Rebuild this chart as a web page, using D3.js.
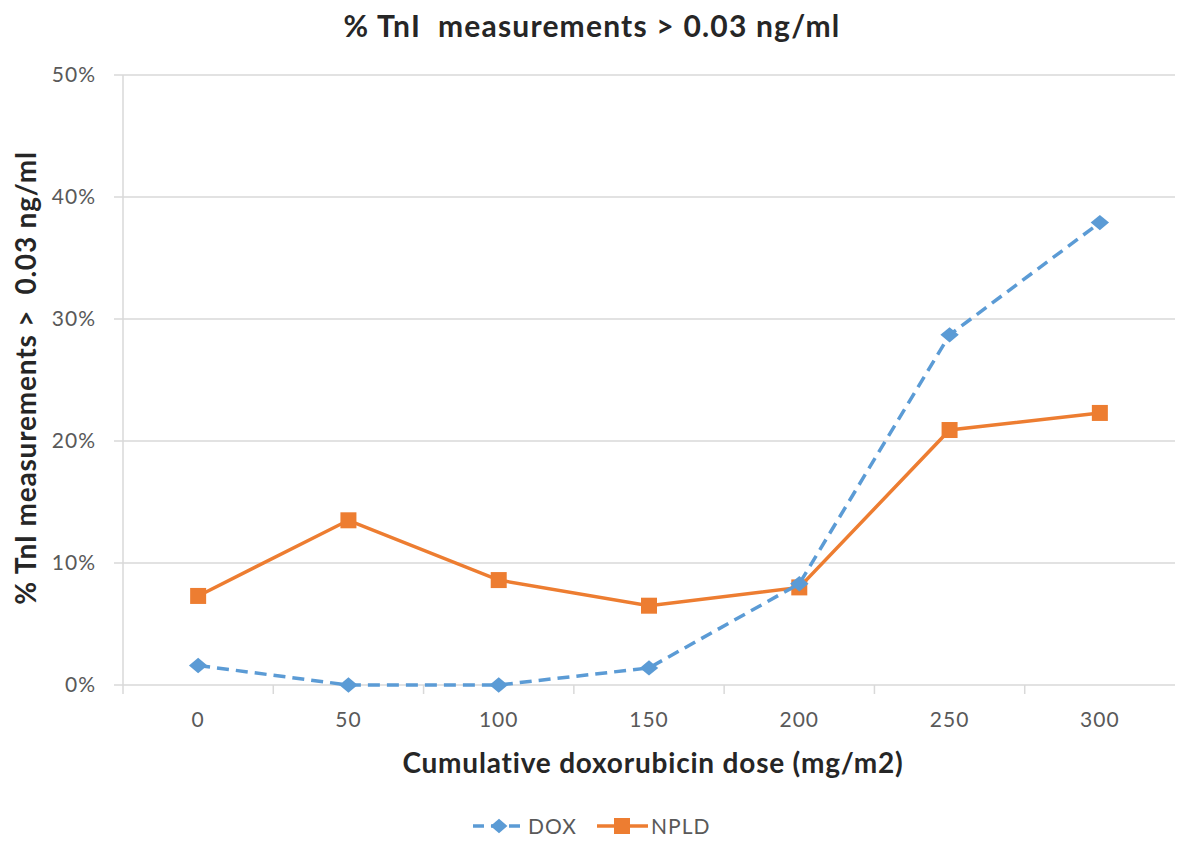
<!DOCTYPE html>
<html>
<head>
<meta charset="utf-8">
<script src="https://cdn.jsdelivr.net/npm/d3@7"></script>
<style>
  body { margin: 0; background: #fff; }
  text { font-family: Lato, "Open Sans", sans-serif; }
</style>
</head>
<body>
<div id="chart"></div>
<script>
// data
var doses = ["0", "50", "100", "150", "200", "250", "300"];
var doxValues = [1.6, 0, 0, 1.4, 8.3, 28.7, 37.9];
var npldValues = [7.3, 13.5, 8.6, 6.5, 8.0, 20.9, 22.3];
var yTicks = [0, 10, 20, 30, 40, 50];

var W = 1177, H = 841;
var margin = {top: 75, right: 2, bottom: 156, left: 123},
    width = W - margin.left - margin.right,
    height = H - margin.top - margin.bottom;

var svg = d3.select("#chart").append("svg")
  .attr("width", W).attr("height", H);

var g = svg.append("g")
  .attr("transform", "translate(" + margin.left + "," + margin.top + ")");

var x = d3.scaleBand().domain(doses).range([0, width]);
var y = d3.scaleLinear().domain([0, 50]).range([height, 0]);

// gridlines
g.selectAll(".grid").data(yTicks).enter().append("line")
  .attr("x1", -9).attr("x2", width)
  .attr("y1", function(d) { return y(d); })
  .attr("y2", function(d) { return y(d); })
  .attr("stroke", "#d9d9d9").attr("stroke-width", 1.5);

// y axis line
g.append("line")
  .attr("x1", 0).attr("x2", 0).attr("y1", 0).attr("y2", height + 9)
  .attr("stroke", "#d9d9d9").attr("stroke-width", 1.5);

// category ticks between bands
g.selectAll(".xtick").data(doses.slice(1)).enter().append("line")
  .attr("x1", function(d) { return x(d); })
  .attr("x2", function(d) { return x(d); })
  .attr("y1", height).attr("y2", height + 9)
  .attr("stroke", "#d9d9d9").attr("stroke-width", 1.5);

// y tick labels
g.selectAll(".ylab").data(yTicks).enter().append("text")
  .attr("x", -27)
  .attr("y", function(d) { return y(d); })
  .attr("dy", "0.35em")
  .attr("text-anchor", "end")
  .attr("font-size", "21px")
  .attr("letter-spacing", "1px")
  .attr("fill", "#595959")
  .text(function(d) { return d + "%"; });

// x tick labels
g.selectAll(".xlab").data(doses).enter().append("text")
  .attr("x", function(d) { return x(d) + x.bandwidth() / 2; })
  .attr("y", height + 42)
  .attr("text-anchor", "middle")
  .attr("font-size", "21px")
  .attr("letter-spacing", "1px")
  .attr("fill", "#595959")
  .text(function(d) { return d; });

var cx = function(d, i) { return x(doses[i]) + x.bandwidth() / 2; };
var line = d3.line()
  .x(function(d, i) { return cx(d, i); })
  .y(function(d) { return y(d); });

var blue = "#5b9bd5", orange = "#ed7d31";
var diamond = d3.symbol().type(d3.symbolDiamond2).size(150);

// NPLD series
g.append("path").datum(npldValues)
  .attr("d", line)
  .attr("fill", "none").attr("stroke", orange).attr("stroke-width", 3.5);
g.selectAll(".npld").data(npldValues).enter().append("rect")
  .attr("x", function(d, i) { return cx(d, i) - 8; })
  .attr("y", function(d) { return y(d) - 8; })
  .attr("width", 16).attr("height", 16)
  .attr("fill", orange);

// DOX series
g.append("path").datum(doxValues)
  .attr("d", line)
  .attr("fill", "none").attr("stroke", blue).attr("stroke-width", 3.5)
  .attr("stroke-dasharray", "12,7");
g.selectAll(".dox").data(doxValues).enter().append("path")
  .attr("d", diamond)
  .attr("transform", function(d, i) { return "translate(" + cx(d, i) + "," + y(d) + ") scale(1.2,1)"; })
  .attr("fill", blue);

// titles
svg.append("text")
  .attr("x", 592).attr("y", 37)
  .attr("text-anchor", "middle")
  .attr("font-size", "30px").attr("font-weight", "bold")
  .attr("letter-spacing", "1.2px")
  .attr("xml:space", "preserve")
  .attr("fill", "#262626")
  .text("% TnI\u00a0 measurements > 0.03 ng/ml");

svg.append("text")
  .attr("x", 653).attr("y", 773)
  .attr("text-anchor", "middle")
  .attr("font-size", "28px").attr("font-weight", "bold")
  .attr("letter-spacing", "0.8px")
  .attr("fill", "#262626")
  .text("Cumulative doxorubicin dose (mg/m2)");

svg.append("text")
  .attr("transform", "translate(36,378) rotate(-90)")
  .attr("text-anchor", "middle")
  .attr("font-size", "28px").attr("font-weight", "bold")
  .attr("letter-spacing", "0.8px")
  .attr("fill", "#262626")
  .text("% TnI measurements >\u00a0 0.03 ng/ml");

// legend
var legend = svg.append("g").attr("transform", "translate(0,826)");
legend.append("line")
  .attr("x1", 473).attr("x2", 525).attr("y1", 0).attr("y2", 0)
  .attr("stroke", blue).attr("stroke-width", 3.5).attr("stroke-dasharray", "11,7");
legend.append("path").attr("d", diamond).attr("transform", "translate(499,0) scale(1.1,0.95)").attr("fill", blue);
legend.append("text").attr("x", 528).attr("y", 0).attr("dy", "0.36em")
  .attr("font-size", "21px").attr("letter-spacing", "1px").attr("fill", "#595959").text("DOX");
legend.append("line")
  .attr("x1", 597).attr("x2", 648).attr("y1", 0).attr("y2", 0)
  .attr("stroke", orange).attr("stroke-width", 3.5);
legend.append("rect").attr("x", 614).attr("y", -8).attr("width", 16).attr("height", 16).attr("fill", orange);
legend.append("text").attr("x", 651).attr("y", 0).attr("dy", "0.36em")
  .attr("font-size", "21px").attr("letter-spacing", "1px").attr("fill", "#595959").text("NPLD");
</script>
</body>
</html>
